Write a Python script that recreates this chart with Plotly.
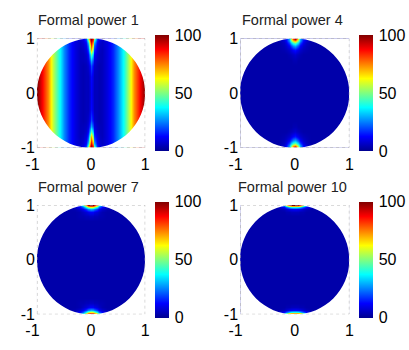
import numpy as np
import plotly.graph_objects as go

# ---------------- data (first quadrant, mirrored) -------------
XQ = [0, 0.03, 0.06, 0.1, 0.15, 0.2, 0.3, 0.4, 0.5, 0.6, 0.7, 0.8, 0.9, 1.0]
YQ = [0, 0.3, 0.5, 0.6, 0.7, 0.8, 0.87, 0.92, 0.96, 1.0]

side = [9, 16, 26, 40, 56, 74, 88, 100]  # x = 0.3 .. 1.0
P1 = [
    [12, 8, 5, 5, 4, 5] + side,
    [13, 9, 5, 5, 4, 5] + side,
    [20, 13, 7, 5, 4, 5] + side,
    [30, 20, 9, 6, 5, 5] + side,
    [47, 32, 12, 7, 5, 5] + side,
    [72, 50, 18, 9, 6, 5] + side,
    [82, 62, 24, 11, 7, 6] + side,
    [90, 72, 32, 13, 8, 6] + side,
    [96, 82, 42, 16, 9, 7] + side,
    [100, 88, 55, 20, 10, 7] + side,
]
bg = [3] * 8
P2 = [
    [3, 3, 3, 3, 3, 3] + bg,
    [3, 3, 3, 3, 3, 3] + bg,
    [3, 3, 3, 3, 3, 3] + bg,
    [4, 4, 3, 3, 3, 3] + bg,
    [7, 6, 5, 4, 3, 3] + bg,
    [15, 13, 10, 7, 5, 4] + bg,
    [30, 27, 20, 12, 7, 5] + bg,
    [50, 45, 35, 20, 10, 6] + bg,
    [75, 68, 50, 28, 13, 8] + bg,
    [100, 88, 60, 30, 15, 9] + bg,
]
P3 = [
    [3, 3, 3, 3, 3, 3] + bg,
    [3, 3, 3, 3, 3, 3] + bg,
    [3, 3, 3, 3, 3, 3] + bg,
    [3, 3, 3, 3, 3, 3] + bg,
    [3, 3, 3, 3, 3, 3] + bg,
    [6, 6, 5, 5, 4, 4] + bg,
    [12, 12, 10, 8, 6, 4] + bg,
    [30, 28, 25, 18, 11, 7] + [4] + [3] * 7,
    [62, 60, 52, 38, 22, 13] + [6] + [3] * 7,
    [100, 100, 95, 72, 42, 22] + [8, 4] + [3] * 6,
]
P4 = [
    [3, 3, 3, 3, 3, 3] + bg,
    [3, 3, 3, 3, 3, 3] + bg,
    [3, 3, 3, 3, 3, 3] + bg,
    [3, 3, 3, 3, 3, 3] + bg,
    [3, 3, 3, 3, 3, 3] + bg,
    [3, 3, 3, 3, 3, 3] + bg,
    [5, 5, 5, 4, 4, 3] + bg,
    [12, 12, 11, 10, 7, 5] + bg,
    [40, 40, 38, 32, 22, 13] + [5] + [3] * 7,
    [100, 100, 100, 90, 62, 32] + [9, 4] + [3] * 6,
]
TITLES = ["Formal power 1", "Formal power 4", "Formal power 7", "Formal power 10"]
TICKVALS = [-1, 0, 1]
XTICKTEXT = ["-1\u00a0\u00a0", "0", "1"]
YTICKTEXT = ["-1", "0", "1"]
CB_TICKS = [0, 50, 100]

# ---------------- build full symmetric grids ----------------
xq = np.array(XQ)
yq = np.array(YQ)
xf = np.concatenate([-xq[::-1], xq[1:]])
yf = np.concatenate([-yq[::-1], yq[1:]])


def full(q):
    q = np.array(q, dtype=float)
    qx = np.concatenate([q[:, ::-1], q[:, 1:]], axis=1)
    return np.concatenate([qx[::-1, :], qx[1:, :]], axis=0)


jet = [
    [0.0, "rgb(0,0,143)"],
    [0.125, "rgb(0,0,255)"],
    [0.375, "rgb(0,255,255)"],
    [0.625, "rgb(255,255,0)"],
    [0.875, "rgb(255,0,0)"],
    [1.0, "rgb(128,0,0)"],
]

W, H = 409, 350
cols = [(26, 139, 149), (238, 352, 362)]
rows = [(32, 147), (207, 322)]
fontfam = "Liberation Sans, Arial, sans-serif"

fig = go.Figure()
k = 0.5523
circle = (f"M1,0 C1,{-k} {k},-1 0,-1 C{-k},-1 -1,{-k} -1,0 "
          f"C-1,{k} {-k},1 0,1 C{k},1 1,{k} 1,0 Z")
square = "M-1,-1 L-1,1 L1,1 L1,-1 Z "
annotations = []
shapes = []
datasets = [P1, P2, P3, P4]
for i, data in enumerate(datasets):
    r, c = divmod(i, 2)
    x0, x1, cbx = cols[c]
    y0, y1 = rows[r]
    ax = "" if i == 0 else str(i + 1)
    fig.add_trace(go.Heatmap(
        x=xf, y=yf, z=full(data), zsmooth="best", colorscale=jet,
        zmin=0, zmax=100, xaxis="x" + ax, yaxis="y" + ax, hoverinfo="skip",
        colorbar=dict(
            x=cbx / W, xanchor="left", xpad=0, ypad=0,
            y=1 - (y0 + y1) / 2 / H, yanchor="middle",
            len=y1 - y0 + 1, lenmode="pixels", thickness=14, thicknessmode="pixels",
            tickvals=CB_TICKS, ticks="outside", ticklen=3,
            tickcolor="rgba(0,0,0,0)", outlinewidth=0,
            tickfont=dict(size=16, color="black", family=fontfam),
        ),
    ))
    axis_common = dict(range=[-1, 1], tickvals=TICKVALS,
                       showgrid=False, zeroline=False, showline=False, ticks="",
                       tickfont=dict(size=16, color="black", family=fontfam),
                       fixedrange=True)
    fig.layout["xaxis" + ax] = dict(axis_common, ticktext=XTICKTEXT,
                                    domain=[x0 / W, x1 / W], anchor="y" + ax,
                                    ticklabelstandoff=5)
    fig.layout["yaxis" + ax] = dict(axis_common, ticktext=YTICKTEXT,
                                    domain=[1 - y1 / H, 1 - y0 / H], anchor="x" + ax,
                                    ticklabelstandoff=1)
    shapes.append(dict(type="path", path=square + circle, xref="x" + ax, yref="y" + ax,
                       fillcolor="white", fillrule="evenodd", line=dict(width=0),
                       layer="above"))
    shapes.append(dict(type="rect", x0=-1, x1=1, y0=-1, y1=1, xref="x" + ax,
                       yref="y" + ax, line=dict(color="#aaaaaa", width=1, dash="dot"),
                       layer="above"))
    annotations.append(dict(text=TITLES[i], x=(x0 + x1) / 2 / W - 0.006,
                            y=1 - (13 + r * 175) / H, xref="paper", yref="paper",
                            xanchor="center", yanchor="middle", showarrow=False,
                            font=dict(size=14.5, color="#222", family=fontfam)))

fig.update_layout(width=W, height=H, margin=dict(l=0, r=0, t=0, b=0),
                  paper_bgcolor="white", plot_bgcolor="white",
                  shapes=shapes, annotations=annotations,
                  font=dict(family=fontfam))
fig.write_html("out.html")
